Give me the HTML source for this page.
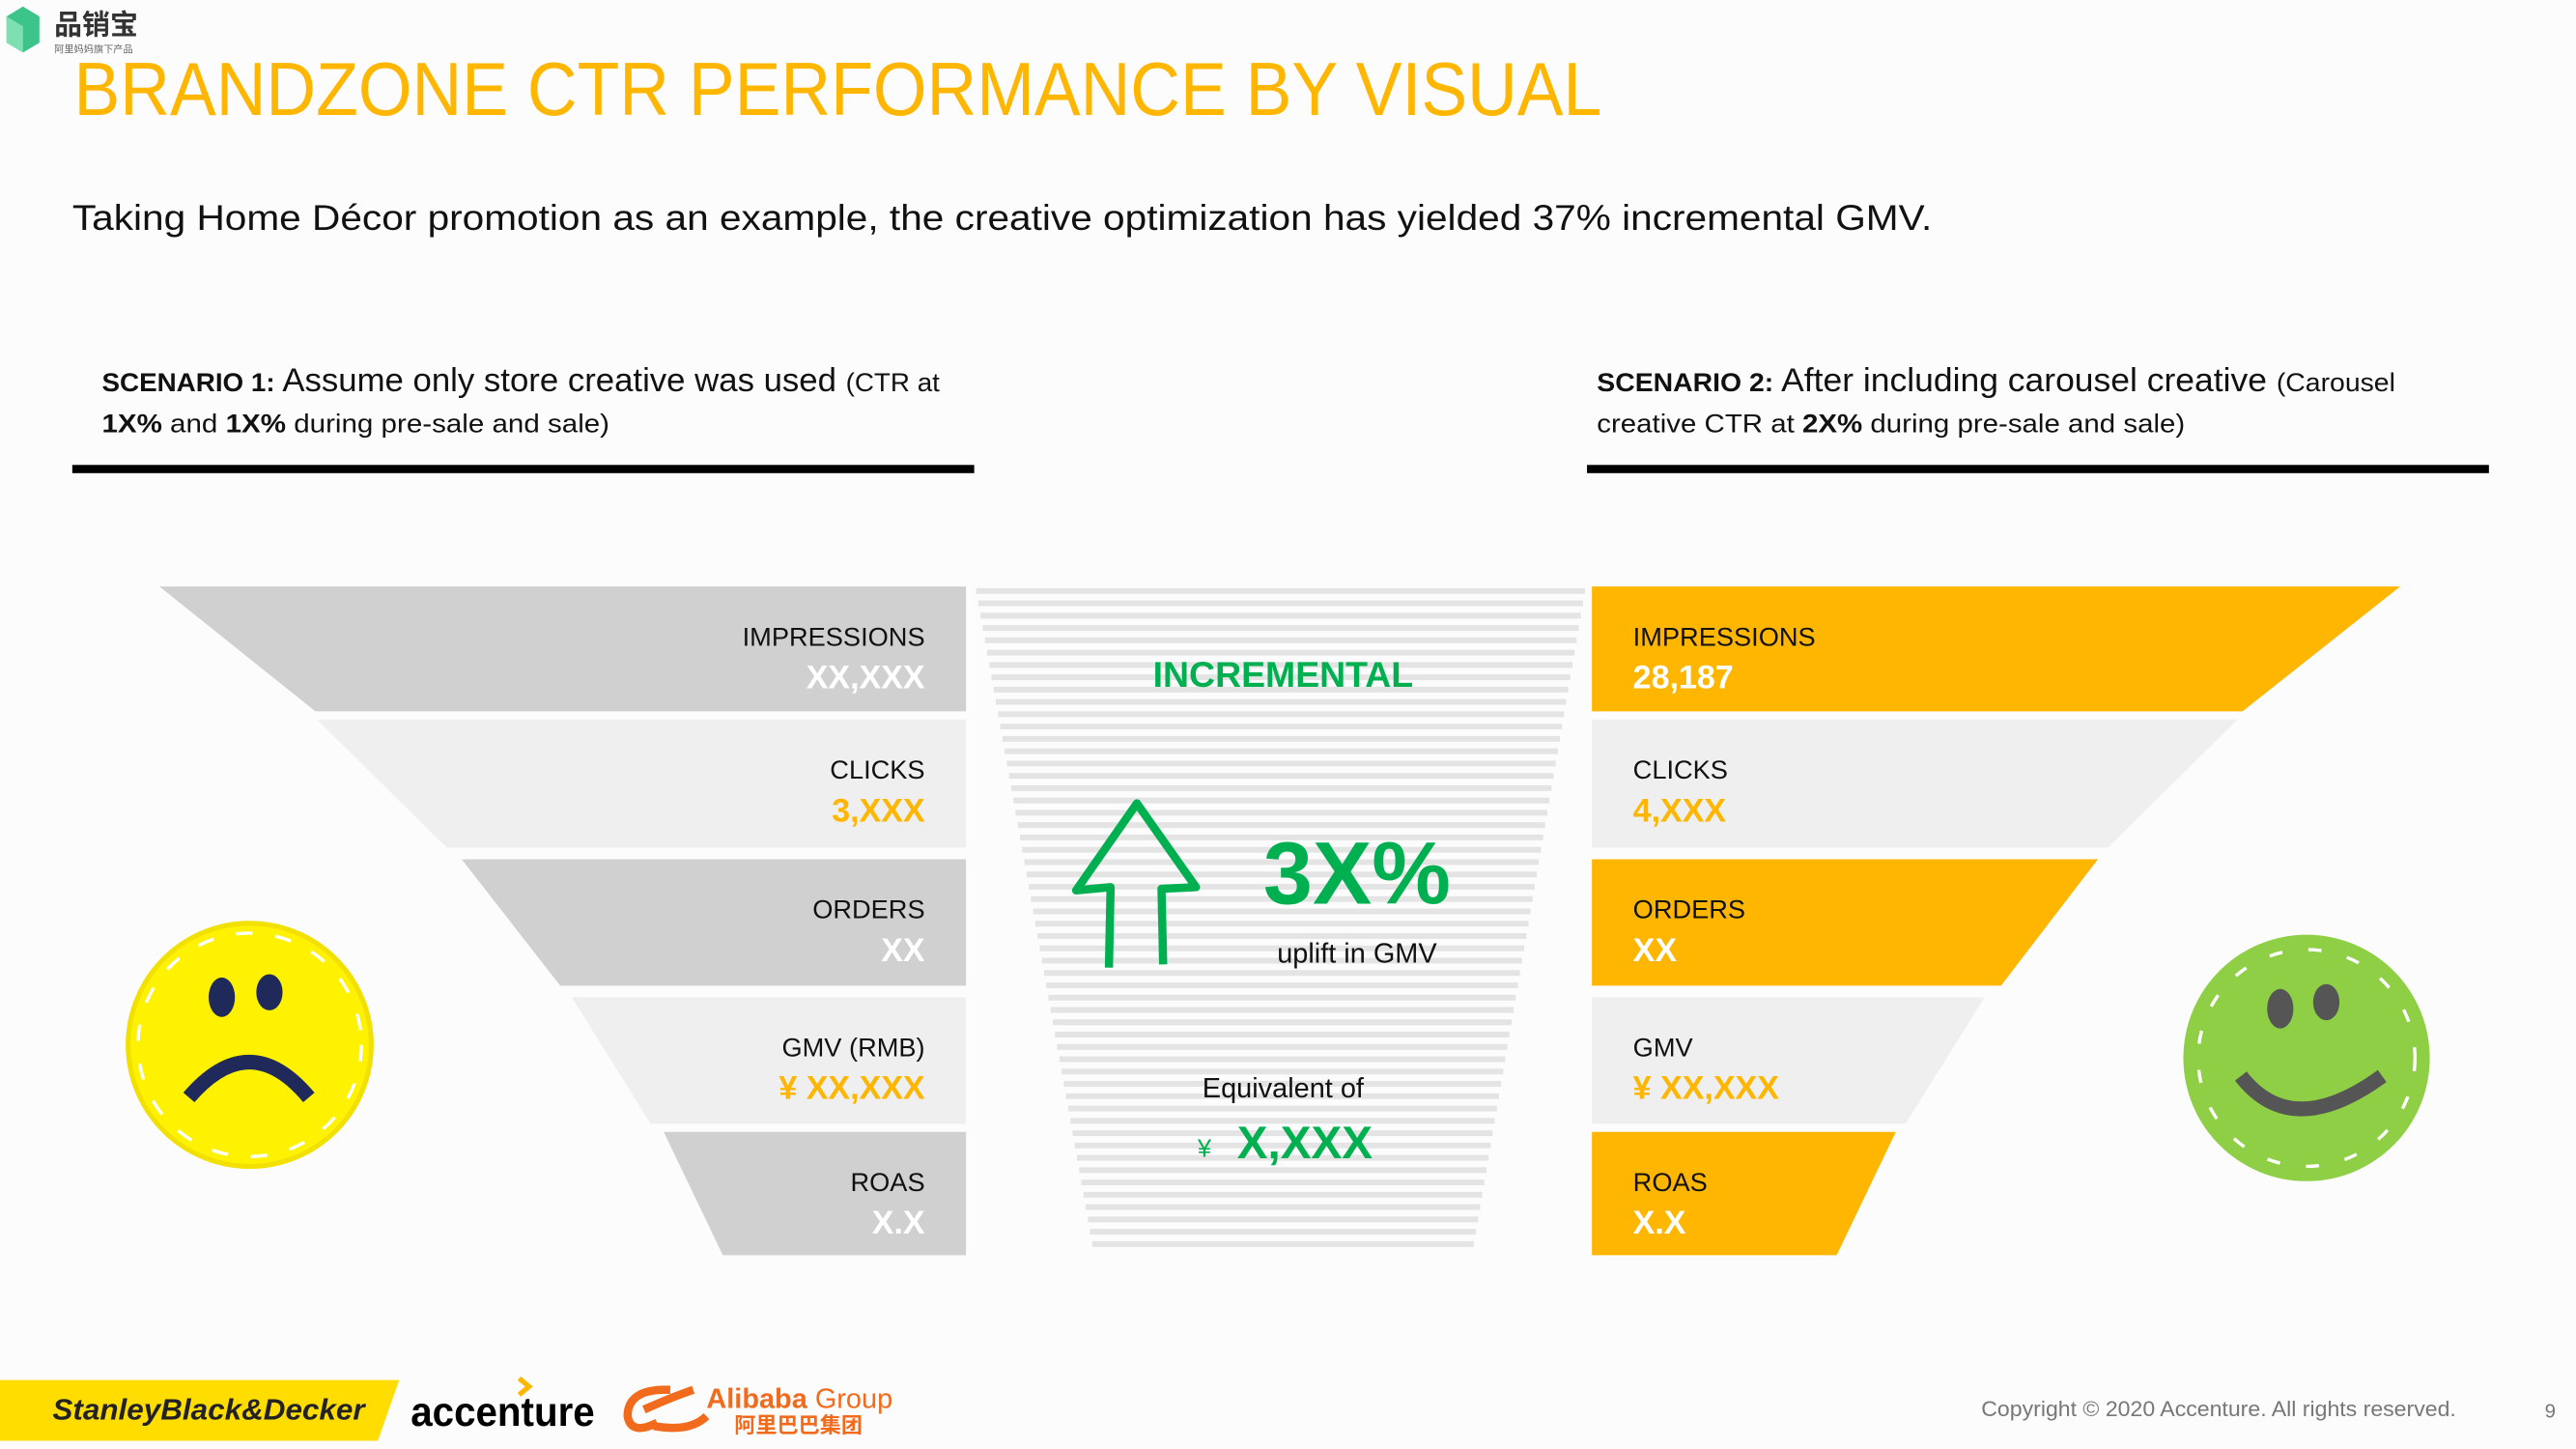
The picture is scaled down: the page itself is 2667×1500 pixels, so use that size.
<!DOCTYPE html>
<html><head><meta charset="utf-8"><style>
html,body{margin:0;padding:0;background:#fff;}
svg{display:block;}
text{font-family:"Liberation Sans","Noto Sans CJK SC",sans-serif;}
</style></head><body>
<svg id="s" width="2667" height="1500" viewBox="0 0 1568 882" preserveAspectRatio="none" xmlns="http://www.w3.org/2000/svg">
<rect x="0" y="0" width="1568" height="882" fill="#fcfcfc"/>
<g>
<polygon points="4,10 14,4 24,10 24,26 14,32 4,26" fill="#3cc48a"/>
<polygon points="4,10 14,16 14,32 4,26" fill="#7ee0b0"/>
<text x="33" y="21" font-size="17" font-weight="bold" fill="#333">品销宝</text>
<text x="33" y="32" font-size="6" fill="#666">阿里妈妈旗下产品</text>
</g>
<text x="45" y="70" font-size="46" fill="#FFB600" textLength="930" lengthAdjust="spacingAndGlyphs">BRANDZONE CTR PERFORMANCE BY VISUAL</text>
<text x="44" y="140" font-size="22" fill="#111" textLength="1132" lengthAdjust="spacingAndGlyphs">Taking Home Décor promotion as an example, the creative optimization has yielded 37% incremental GMV.</text>

<g>
<text x="62" y="238" fill="#111" textLength="510" lengthAdjust="spacingAndGlyphs"><tspan font-size="16" font-weight="bold">SCENARIO 1: </tspan><tspan font-size="20">Assume only store creative was used </tspan><tspan font-size="16">(CTR at</tspan></text>
<text x="62" y="263" font-size="16" fill="#111" textLength="309" lengthAdjust="spacingAndGlyphs"><tspan font-weight="bold">1X%</tspan> and <tspan font-weight="bold">1X%</tspan> during pre-sale and sale)</text>
<rect x="44" y="283" width="549" height="5" fill="#000"/>
</g>
<g>
<text x="972" y="238" fill="#111" textLength="486" lengthAdjust="spacingAndGlyphs"><tspan font-size="16" font-weight="bold">SCENARIO 2: </tspan><tspan font-size="20">After including carousel creative </tspan><tspan font-size="16">(Carousel</tspan></text>
<text x="972" y="263" font-size="16" fill="#111" textLength="358" lengthAdjust="spacingAndGlyphs">creative CTR at <tspan font-weight="bold">2X%</tspan> during pre-sale and sale)</text>
<rect x="966" y="283" width="549" height="5" fill="#000"/>
</g>

<g id="left"></g>
<g id="right"></g>
<g id="center"></g>

<g>
<circle cx="152" cy="636" r="74" fill="#FFF200" stroke="#f2e000" stroke-width="3"/>
<circle cx="152" cy="636" r="68" fill="none" stroke="#fff" stroke-width="2" stroke-dasharray="10 14"/>
<ellipse cx="135" cy="607" rx="8" ry="12" fill="#1f2a5a"/>
<ellipse cx="164" cy="604" rx="8" ry="11" fill="#1f2a5a"/>
<path d="M115,668 Q152,625 188,668" fill="none" stroke="#1f2a5a" stroke-width="9"/>
</g>
<g>
<circle cx="1404" cy="644" r="75" fill="#8fcf45"/>
<circle cx="1404" cy="644" r="66" fill="none" stroke="#fff" stroke-width="2" stroke-dasharray="8 16"/>
<ellipse cx="1388" cy="614" rx="8" ry="12" fill="#555"/>
<ellipse cx="1416" cy="610" rx="8" ry="11" fill="#555"/>
<path d="M1364,655 Q1395,695 1450,655" fill="none" stroke="#555" stroke-width="9"/>
</g>

<g>
<polygon points="0,840 243,840 230,877 0,877" fill="#FFDD00"/>
<text x="32" y="864" font-size="18" font-weight="bold" font-style="italic" fill="#222" textLength="190" lengthAdjust="spacingAndGlyphs">StanleyBlack&amp;Decker</text>
<text x="250" y="868" font-size="25" font-weight="bold" fill="#000" textLength="112" lengthAdjust="spacingAndGlyphs">accenture</text>
<path d="M316,839 L322,844 L316,849" fill="none" stroke="#FFB600" stroke-width="3"/>
<path d="M408,846 Q382,845 382,862 Q384,874 400,866 M392,858 Q410,850 422,846 M398,868 Q420,872 430,862" fill="none" stroke="#F26B1D" stroke-width="5"/>
<text x="430" y="857" font-size="17" fill="#F26B1D"><tspan font-weight="bold">Alibaba</tspan> Group</text>
<text x="447" y="872" font-size="13" fill="#F26B1D" font-weight="bold">阿里巴巴集团</text>
<text x="1206" y="862" font-size="13" fill="#777" textLength="289" lengthAdjust="spacingAndGlyphs">Copyright © 2020 Accenture. All rights reserved.</text>
<text x="1549" y="863" font-size="12" fill="#777">9</text>
</g>
</svg>
<script>
const stageLabels=["IMPRESSIONS","CLICKS","ORDERS","GMV (RMB)","ROAS"];
const stageLabelsRight=["IMPRESSIONS","CLICKS","ORDERS","GMV","ROAS"];
const valuesLeft=["XX,XXX","3,XXX","XX","¥ XX,XXX","X.X"];
const valuesRight=["28,187","4,XXX","XX","¥ XX,XXX","X.X"];
const upliftValue="3X%";
const equivalentValue="X,XXX";

const NS="http://www.w3.org/2000/svg";
function mk(tag,attrs,parent){const e=document.createElementNS(NS,tag);for(const k in attrs)e.setAttribute(k,attrs[k]);parent.appendChild(e);return e;}
const rowsY=[[357,433],[438,516],[523,600],[607,684],[689,764]];
const leftEdges=[[97,192],[193,272],[281,341],[348,396],[404,440]];
const rightEdges=[[1461,1365],[1362,1283],[1277,1218],[1208,1160],[1154,1118]];
const L=document.getElementById('left'),R=document.getElementById('right'),C=document.getElementById('center');
const ORANGE="#FFB600";
for(let i=0;i<stageLabels.length;i++){
  const [y0,y1]=rowsY[i];const odd=i%2===1;
  const p=mk('polygon',{points:`${leftEdges[i][0]},${y0} 588,${y0} 588,${y1} ${leftEdges[i][1]},${y1}`,fill:odd?"#efefef":"#d0d0d0"},L);
  
  
  const t=mk('text',{x:563,y:y0+36,'font-size':16,'text-anchor':'end',fill:'#111'},L);t.textContent=stageLabels[i];
  
  
  const v=mk('text',{x:563,y:y0+62,'font-size':20,'font-weight':'bold','text-anchor':'end',fill:odd?ORANGE:'#fff'},L);v.textContent=valuesLeft[i];
  
  
  const q=mk('polygon',{points:`969,${y0} ${rightEdges[i][0]},${y0} ${rightEdges[i][1]},${y1} 969,${y1}`,fill:odd?"#efefef":ORANGE},R);
  
  
  const t2=mk('text',{x:994,y:y0+36,'font-size':16,fill:'#111'},R);t2.textContent=stageLabelsRight[i];
  
  
  const v2=mk('text',{x:994,y:y0+62,'font-size':20,'font-weight':'bold',fill:odd?ORANGE:'#fff'},R);v2.textContent=valuesRight[i];
  
  
}
// striped center trapezoid
for(let y=358;y<762;y+=7.5){
  const f=(y-357)/(762-357);const xl=594+f*(666-594),xr=965+f*(896-965);
  const r=mk('rect',{x:xl,y:y,width:xr-xl,height:3.5,fill:'#e4e4e4'},C);
  
  
}
const G="#00B050";
let t=mk('text',{x:781,y:418,'font-size':22,'font-weight':'bold','text-anchor':'middle',fill:G},C);t.textContent="INCREMENTAL";


const ar=mk('path',{d:"M675,589 L676,540 L655,542 L692,489 L728,540 L707,541 L708,587",fill:'none',stroke:G,'stroke-width':5,'stroke-linejoin':'round'},C);


t=mk('text',{x:826,y:550,'font-size':54,'font-weight':'bold','text-anchor':'middle',fill:G},C);t.textContent=upliftValue;


t=mk('text',{x:826,y:586,'font-size':17,'text-anchor':'middle',fill:'#111'},C);t.textContent="uplift in GMV";


t=mk('text',{x:781,y:668,'font-size':17,'text-anchor':'middle',fill:'#111'},C);t.textContent="Equivalent of";


t=mk('text',{x:729,y:704,'font-size':15,fill:G},C);t.textContent="¥";


t=mk('text',{x:753,y:705,'font-size':28,'font-weight':'bold',fill:G},C);t.textContent=equivalentValue;


</script>
</body></html>
